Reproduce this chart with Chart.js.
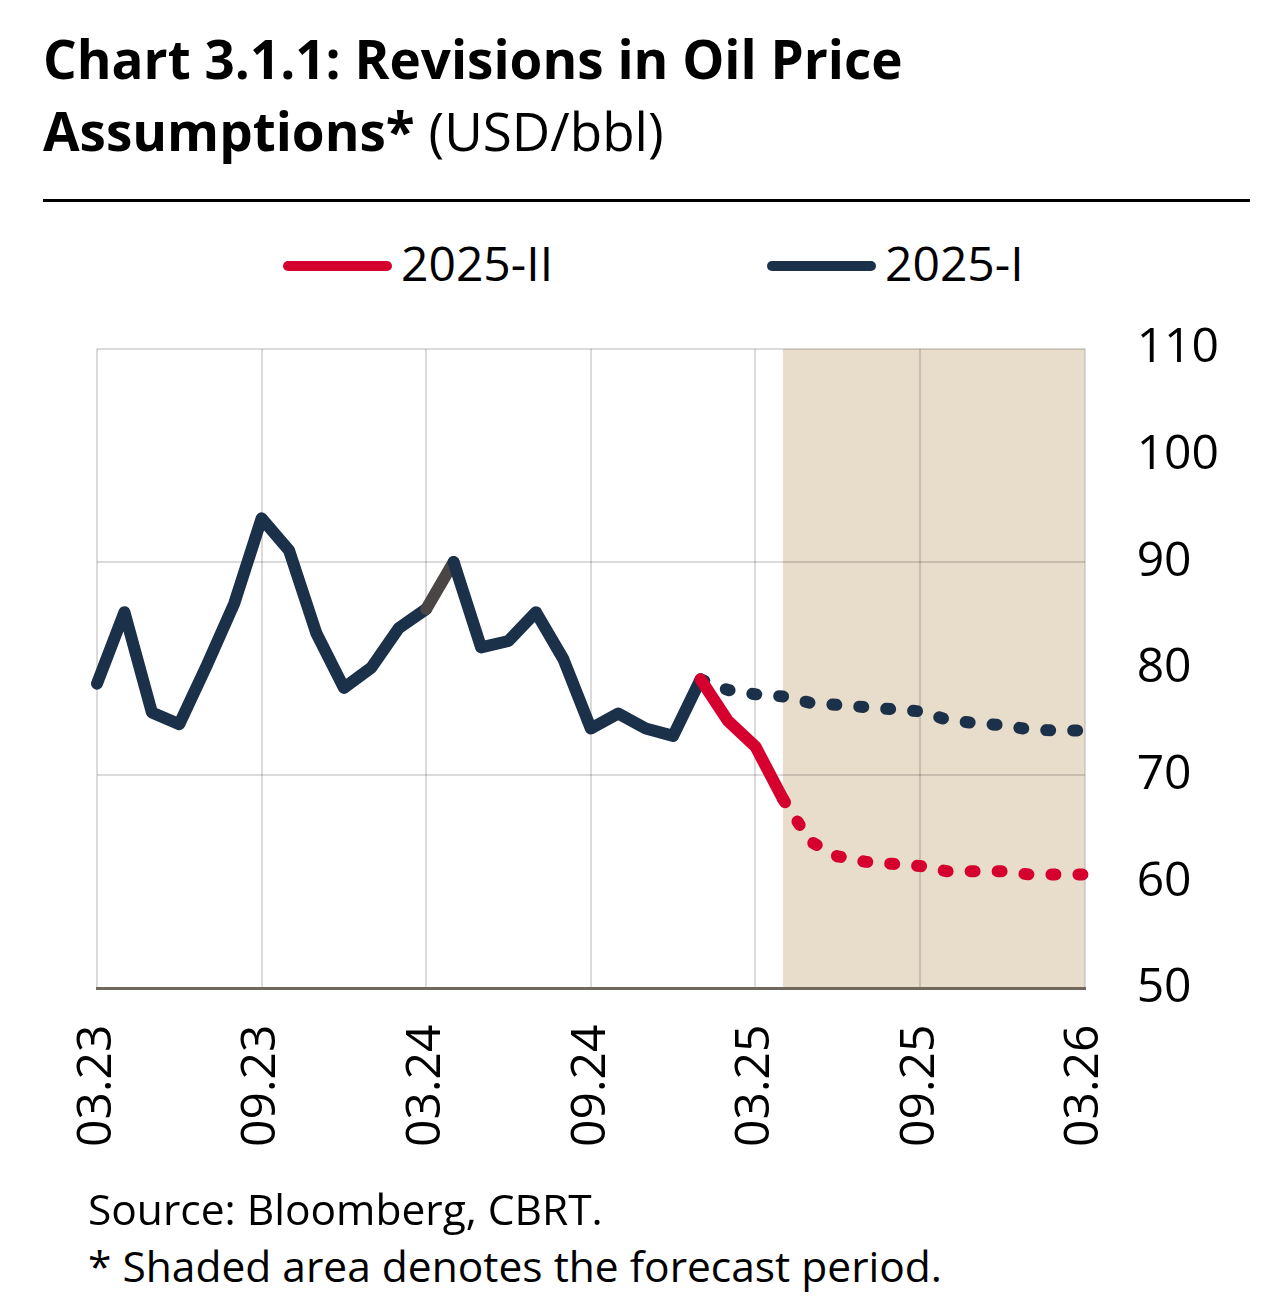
<!DOCTYPE html>
<html>
<head>
<meta charset="utf-8">
<script src="https://cdn.jsdelivr.net/npm/chart.js@4.4.1/dist/chart.umd.min.js"></script>
<style>
  body { margin: 0; background: #fff; width: 1280px; height: 1307px; position: relative; font-family: 'Open Sans', sans-serif; color: #000; }
  #title { position: absolute; left: 43px; top: 23px; font-size: 53px; line-height: 72px; font-weight: 700; white-space: nowrap; }
  #title span { font-weight: 400; }
  #rule { position: absolute; left: 43px; top: 199px; width: 1207px; height: 3px; background: #000; }
  #wrap { position: absolute; left: 0; top: 268px; width: 1280px; height: 918px; }
  .note { position: absolute; left: 88px; font-size: 42.5px; white-space: nowrap; }
  .leg { position: absolute; top: 239px; font-size: 48px; line-height: 48px; white-space: nowrap; }
  .bar { position: absolute; top: 261px; width: 109px; height: 10px; border-radius: 5px; }
</style>
</head>
<body>
<div id="title">Chart 3.1.1: Revisions in Oil Price<br>Assumptions* <span>(USD/bbl)</span></div>
<div id="rule"></div>
<div id="legend"></div>
<div id="wrap"><canvas id="chart"></canvas></div>
<div class="note" style="top:1180px">Source: Bloomberg, CBRT.</div>
<div class="note" style="top:1237px">* Shaded area denotes the forecast period.</div>
<script>
// months, 03.23 -> 03.26
const months = ['03.23','04.23','05.23','06.23','07.23','08.23','09.23','10.23','11.23','12.23',
  '01.24','02.24','03.24','04.24','05.24','06.24','07.24','08.24','09.24','10.24','11.24','12.24',
  '01.25','02.25','03.25','04.25','05.25','06.25','07.25','08.25','09.25','10.25','11.25','12.25',
  '01.26','02.26','03.26'];

// 2025-I report path (history + old assumption)
const oil_2025_I = [78.6, 85.3, 75.9, 74.8, 80.3, 86.1, 94.1, 91.1, 83.3, 78.2,
  80.1, 83.8, 85.6, 90.0, 82.0, 82.6, 85.3, 80.9, 74.4, 75.8, 74.4, 73.7,
  79.0, 78.0, 77.6, 77.4, 76.8, 76.6, 76.4, 76.2, 76.0, 75.2, 74.9, 74.7,
  74.3, 74.2, 74.2];

// 2025-II report path, only where it splits off from 2025-I
const oil_2025_II = [null, null, null, null, null, null, null, null, null, null,
  null, null, null, null, null, null, null, null, null, null, null, null,
  79.0, 75.1, 72.7, 67.8, 63.8, 62.4, 61.9, 61.7, 61.5, 61.0, 61.0, 61.0,
  60.7, 60.7, 60.7];

const yTicks = [50, 60, 70, 80, 90, 100, 110];
const seriesNames = ['2025-II', '2025-I'];

const dashStart_I = '01.25';   // 2025-I assumption starts here
const dashStart_II = '04.25';  // 2025-II assumption starts here
const forecastStart = '04.25'; // shaded area
const greySegment = '03.24';   // odd grey bit in the original line

const RED = '#d6002f';
const NAVY = '#1b3049';
const DOTS = [4, 23];

// legend is plain html, the chart.js one can't get the spacing right
const legendPos = [283, 767];
[RED, NAVY].forEach((col, i) => {
  const leg = document.getElementById('legend');
  leg.insertAdjacentHTML('beforeend',
    `<div class="bar" style="left:${legendPos[i]}px;background:${col}"></div>` +
    `<div class="leg" style="left:${legendPos[i] + 118}px">${seriesNames[i]}</div>`);
});

const shadePlugin = {
  id: 'shade',
  beforeDraw(chart) {
    const x = chart.scales.x, a = chart.chartArea, ctx = chart.ctx;
    const x0 = x.getPixelForValue(months.indexOf(forecastStart));
    ctx.save();
    ctx.fillStyle = '#e8dccb';
    ctx.fillRect(x0, a.top, a.right - x0, a.bottom - a.top);
    ctx.restore();
  }
};

const ctx = document.getElementById('chart').getContext('2d');
new Chart(ctx, {
  type: 'line',
  data: {
    labels: months,
    datasets: [{
      label: seriesNames[0],
      data: oil_2025_II,
      borderColor: RED,
      borderWidth: 12,
      pointRadius: 0,
      tension: 0,
      borderCapStyle: 'round',
      borderJoinStyle: 'round',
      segment: {
        borderDash: c => c.p0DataIndex >= months.indexOf(dashStart_II) ? DOTS : undefined
      }
    }, {
      label: seriesNames[1],
      data: oil_2025_I,
      borderColor: NAVY,
      borderWidth: 12,
      pointRadius: 0,
      tension: 0,
      borderCapStyle: 'round',
      borderJoinStyle: 'round',
      segment: {
        borderDash: c => c.p0DataIndex >= months.indexOf(dashStart_I) ? DOTS : undefined,
        borderColor: c => c.p0DataIndex === months.indexOf(greySegment) ? '#4a4646' : undefined
      }
    }]
  },
  options: {
    responsive: true,
    maintainAspectRatio: false,
    animation: false,
    layout: { padding: { left: 97, right: 9, top: 0, bottom: 3 } },
    plugins: {
      legend: { display: false },
      tooltip: { enabled: false }
    },
    scales: {
      x: {
        ticks: {
          autoSkip: false,
          maxRotation: 90,
          minRotation: 90,
          padding: 36,
          color: '#000',
          font: { family: 'Open Sans', size: 48 },
          callback: (v, i) => i % 6 === 0 ? months[i] : null
        },
        grid: { color: 'rgba(0,0,0,0.14)', lineWidth: 2, drawTicks: false },
        border: { display: true, color: '#70675c', width: 3 }
      },
      y: {
        position: 'right',
        min: yTicks[0],
        max: yTicks[yTicks.length - 1],
        afterBuildTicks: s => { s.ticks = yTicks.map(v => ({ value: v })); },
        ticks: {
          padding: 52,
          color: '#000',
          font: { family: 'Open Sans', size: 48 }
        },
        grid: {
          color: c => c.tick && c.tick.value % 20 === 10 && c.tick.value !== 50 ? 'rgba(0,0,0,0.14)' : 'rgba(0,0,0,0)',
          lineWidth: 2,
          drawTicks: false
        },
        border: { display: false }
      }
    }
  },
  plugins: [shadePlugin]
});
</script>
</body>
</html>
